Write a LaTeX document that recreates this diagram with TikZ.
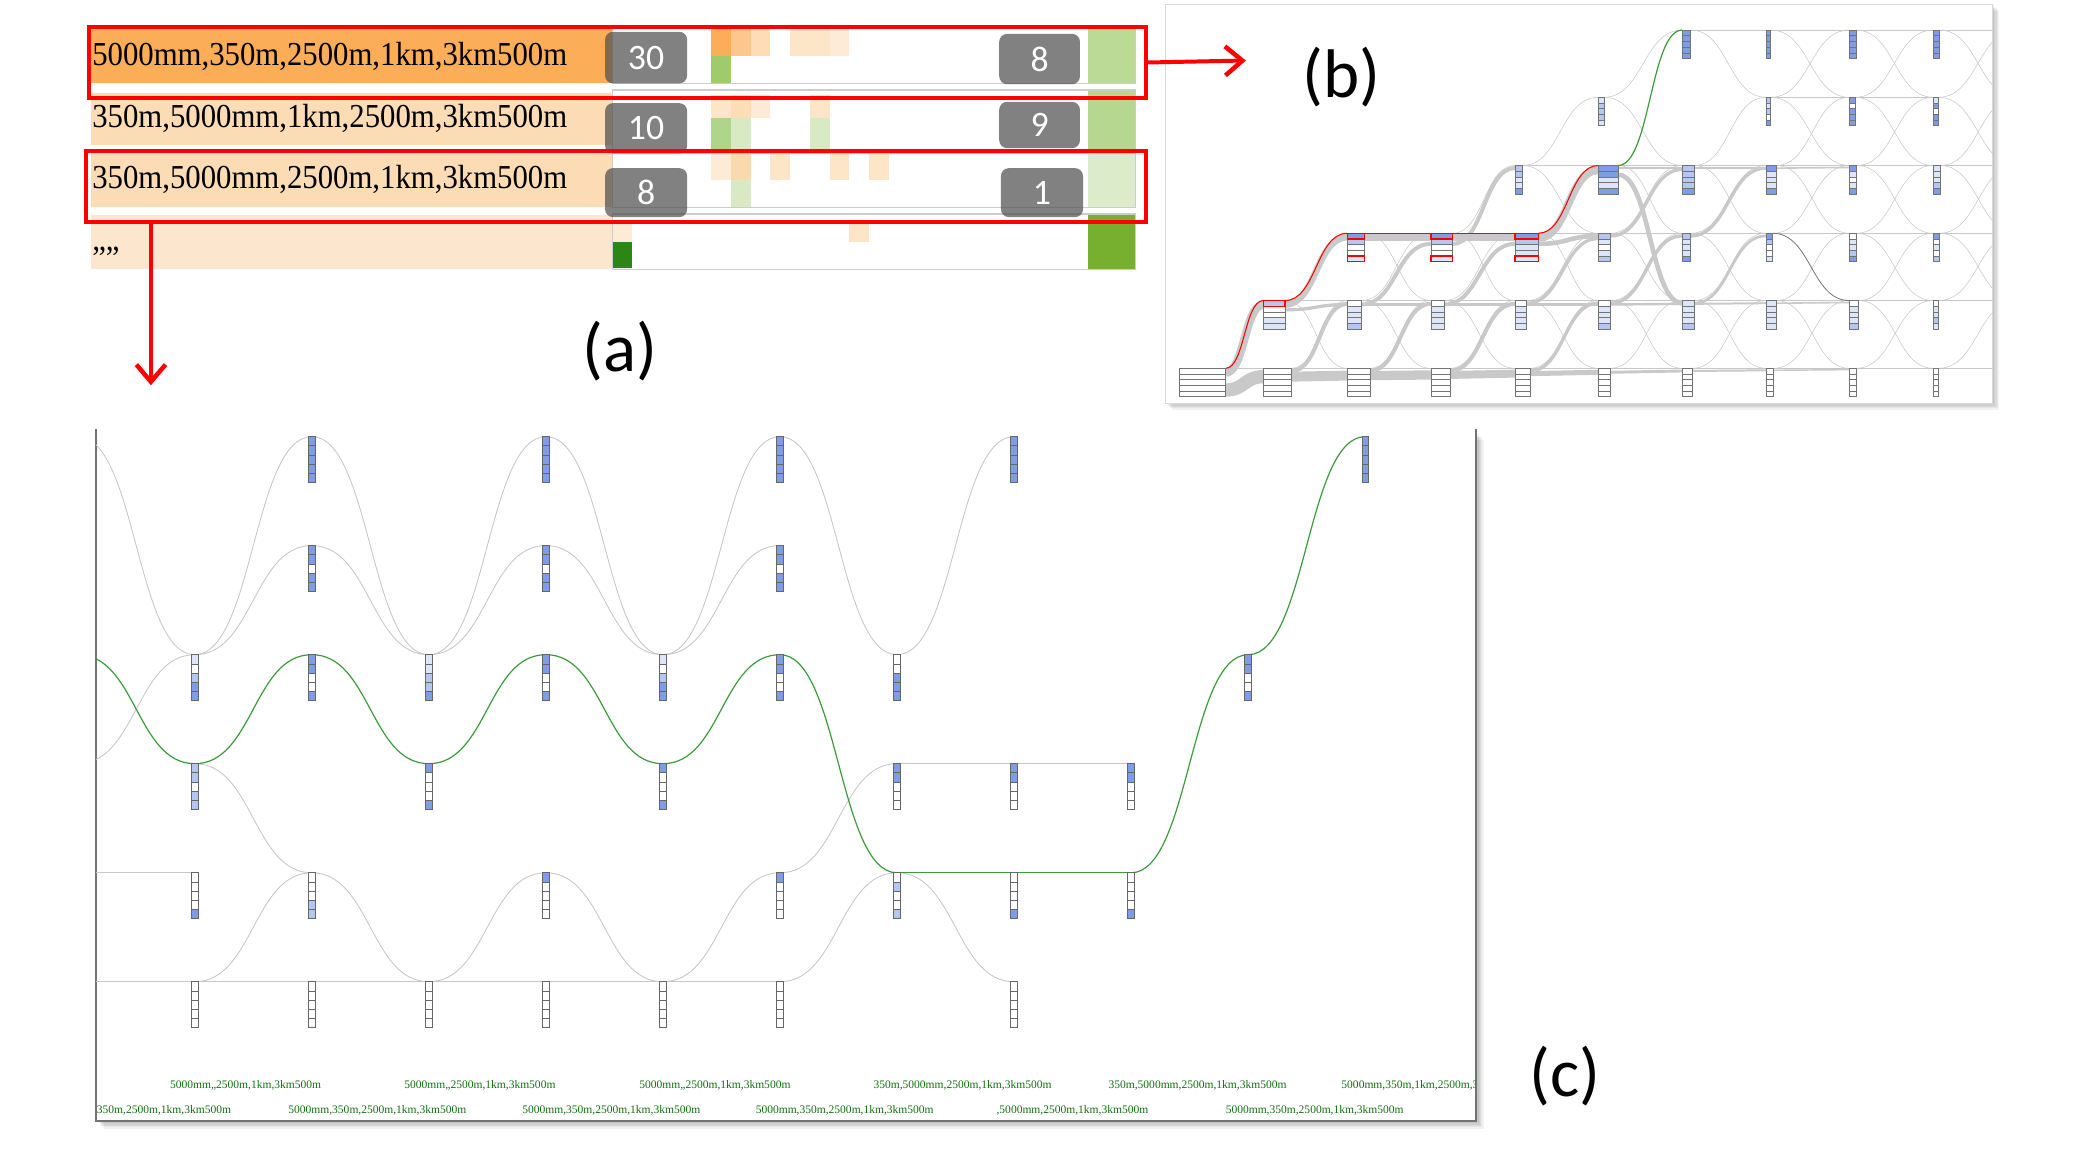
\documentclass[tikz,border=0pt]{standalone}
\usepackage{fontspec}
\setmainfont{Liberation Serif}
\newfontfamily\calib{Carlito}
\usepackage{graphicx}
\usetikzlibrary{calc,arrows.meta}
\pgfdeclarelayer{back}
\pgfdeclarelayer{bg}
\pgfsetlayers{back,bg,main}
\definecolor{orA}{HTML}{FBAD57}
\definecolor{orB}{HTML}{FBDCB4}
\definecolor{orC}{HTML}{FCE7CE}
\definecolor{oa}{HTML}{FBAD57}
\definecolor{ob}{HTML}{FDC68C}
\definecolor{oc}{HTML}{FDDDB5}
\definecolor{od}{HTML}{FDE5C8}
\definecolor{oe}{HTML}{FDEBD6}
\definecolor{of}{HTML}{FBD9AE}
\definecolor{ga}{HTML}{A0CB6C}
\definecolor{gb}{HTML}{AFD58A}
\definecolor{gc}{HTML}{D8EAC4}
\definecolor{gd}{HTML}{2D8515}
\definecolor{ra}{HTML}{BBDA96}
\definecolor{rb}{HTML}{B5D78F}
\definecolor{rc}{HTML}{DCEBC9}
\definecolor{rd}{HTML}{77B02F}
\definecolor{cD}{HTML}{7F9CE4}
\definecolor{cM}{HTML}{B5C6F0}
\definecolor{cL}{HTML}{DDE5F8}
\definecolor{cW}{HTML}{FFFFFF}
\definecolor{pgreen}{HTML}{3C9A3C}
\definecolor{lblgreen}{HTML}{126F12}
\tikzset{
  thinb/.style={draw=black!22, line width=0.4pt},
  thinc/.style={draw=black!22, line width=0.65pt},
  greenl/.style={draw=pgreen, line width=0.9pt},
  redl/.style={draw=red, line width=0.8pt},
  ribbon/.style={draw=black!21},
  bn/.style={inner sep=0pt, outer sep=0pt, minimum height=21.5pt, draw=none},
  cn/.style={inner sep=0pt, outer sep=0pt, minimum height=34.5pt, minimum width=5pt, draw=none},
  vpt/.style={inner sep=0pt, outer sep=0pt, minimum size=0pt},
  numbox/.style={fill={rgb,255:red,80;green,80;blue,80}, fill opacity=0.72, text opacity=1, text=white, rounded corners=6pt, inner sep=0pt, font=\calib\fontsize{27}{27}\selectfont},
  rowtxt/.style={anchor=base west, inner sep=0pt, font=\fontsize{25.3}{26}\selectfont},
  clbl/.style={text=lblgreen, inner sep=0pt, font=\fontsize{8.7}{9}\selectfont},
  panlbl/.style={font=\calib\fontsize{52}{52}\selectfont, inner sep=0pt},
  redbox/.style={draw=red, line width=3pt, inner sep=0pt, anchor=north west},
  redarrow/.style={draw=red, line width=3pt, -{Straight Barb[length=13pt,width=22pt,line width=3.4pt]}},
}
\newcommand\sig[3][]{\draw[#1] let \p1=(#2), \p2=(#3), \p3=($(#2)!0.5!(#3)$) in (\p1) .. controls (\x3,\y1) and (\x3,\y2) .. (\p2);}
\newcommand\rib[5]{\draw[ribbon, line width=#1pt] let \p1=($(#2.north east)+(0,#3)$), \p2=($(#4.north west)+(0,#5)$), \p3=($(#2.north east)!0.5!(#4.north west)$) in (\p1) .. controls (\x3,\y1) and (\x3,\y2) .. (\p2);}
\newcommand\bnode[5]{%
  \node[bn, anchor=north west, minimum width=#4pt] (#1) at (#2,#3) {};
  \foreach \fc [count=\i from 0] in {#5}{%
    \filldraw[fill=\fc, draw=black!55, line width=0.45pt] (#2,{#3+\i*4.3}) rectangle ++(#4,4.3);}%
}
\newcommand\cnode[4]{%
  \node[cn, anchor=north] (#1) at (#2,#3) {};
  \foreach \fc [count=\i from 0] in {#4}{%
    \filldraw[fill=\fc, draw=black!60, line width=0.5pt] ({#2-2.5},{#3+\i*6.9}) rectangle ++(5,6.9);}%
}
\newcommand\acell[4]{\fill[#4] ({462.5+14.92*#1},#2) rectangle ({462.5+14.92*(#1+1)},#3);}
\begin{document}
\begin{tikzpicture}[x=1pt,y=-1pt]
\useasboundingbox (0,0) rectangle (1568,877);
% ---------------- panel backgrounds and shadows
\begin{pgfonlayer}{back}
  \foreach \d in {1,2,3,4,5}{\fill[black,opacity=0.05] (880+\d,3+\d) rectangle (1505+\d,304.5+\d);}
  \fill[white] (880,3) rectangle (1505,304.5);
  \draw[black!15, line width=0.6pt] (880,3) rectangle (1505,304.5);
  \foreach \d in {1,2,3,4,5,6}{\fill[black,opacity=0.05] (72.4+\d,326+\d) rectangle (1114.7+\d,846.5+\d);}
  \fill[white] (72.4,324) rectangle (1114.7,846.5);
  \draw[black!55, line width=1.5pt] (72.4,324) -- (72.4,846.5) -- (1114.7,846.5) -- (1114.7,324);
\end{pgfonlayer}
% ---------------- panel (a)
\fill[orA] (68.5,22) rectangle (462,62.5);
\fill[orB] (68.5,70) rectangle (462,109.5);
\fill[orB] (68.5,115.6) rectangle (462,156.4);
\fill[orC] (68.5,162.4) rectangle (462,203.2);
\acell{5}{21.4}{42}{oa}\acell{6}{21.4}{42}{ob}\acell{7}{21.4}{42}{oc}
\acell{9}{21.4}{42}{od}\acell{10}{21.4}{42}{od}\acell{11}{21.4}{42}{oe}
\acell{5}{42}{63}{ga}
\acell{5}{72}{89}{od}\acell{6}{72}{89}{oc}\acell{7}{72}{89}{oe}\acell{10}{72}{89}{od}
\acell{5}{89}{113.5}{gb}\acell{6}{89}{113.5}{gc}\acell{10}{89}{113.5}{gc}
\acell{5}{116}{136}{oe}\acell{6}{116}{136}{of}\acell{8}{116}{136}{od}\acell{11}{116}{136}{od}\acell{13}{116}{136}{od}
\acell{6}{136}{156.6}{gc}
\acell{0}{166}{182.5}{oe}\acell{12}{166}{182.5}{od}
\acell{0}{182.5}{202.7}{gd}
\fill[ra] (821.5,21.4) rectangle (857.8,63);
\fill[rb] (821.5,68) rectangle (857.8,113.5);
\fill[rc] (821.5,115.5) rectangle (857.8,156.6);
\fill[rd] (821.5,161.7) rectangle (857.8,203.5);
\foreach \ya/\yb in {21.4/63, 68/113.5, 115.5/156.6, 161.7/203.5}{\draw[black!20, line width=1.1pt] (462.5,\ya) rectangle (857.8,\yb);}
\node[rowtxt] (t1) at (69.5,49.5) {\scalebox{0.918}[1]{5000mm,350m,2500m,1km,3km500m}};
\node[rowtxt] (t2) at (69.5,96) {\scalebox{0.918}[1]{350m,5000mm,1km,2500m,3km500m}};
\node[rowtxt] (t3) at (69.5,142) {\scalebox{0.918}[1]{350m,5000mm,2500m,1km,3km500m}};
\node[rowtxt] (t4) at (69.5,189.5) {\scalebox{0.918}[1]{,,,,}};
\node[numbox, minimum width=62pt, minimum height=39pt] (n30) at (488,43.5) {30};
\node[numbox, minimum width=61pt, minimum height=38pt] (n8a) at (785.2,44.6) {8};
\node[numbox, minimum width=62pt, minimum height=38pt] (n10) at (488,96.9) {10};
\node[numbox, minimum width=61pt, minimum height=35pt] (n9) at (785.2,94.4) {9};
\node[numbox, minimum width=62pt, minimum height=37pt] (n8b) at (488,145.5) {8};
\node[numbox, minimum width=62pt, minimum height=37pt] (n1) at (787,145.5) {1};
\node[redbox, minimum width=798.4pt, minimum height=53.6pt] (rb1) at (65.6,18.9) {};
\node[redbox, minimum width=800.5pt, minimum height=53.4pt] (rb2) at (63.5,112.8) {};
\coordinate (arrB) at (941,45.7);
\coordinate (rb2s) at (114,166.2);
\coordinate (arrC) at (114,291);
\draw[redarrow] (rb1.east) -- (arrB);
\draw[redarrow] (rb2s) -- (arrC);
\node[panlbl] (la) at (468,265) {(a)};
\node[panlbl] (lb) at (1013,58) {(b)};
\node[panlbl] (lc) at (1182,813) {(c)};
% ---------------- panel (b) nodes
\bnode{p00}{890.7}{278.2}{35}{cW,cW,cW,cW,cW}
\bnode{p10}{954.2}{278.2}{21.4}{cW,cW,cW,cW,cW}
\bnode{p11}{954.2}{227}{16.4}{cM,cW,cW,cL,cL}
\bnode{p20}{1017.6}{278.2}{17}{cW,cW,cW,cW,cW}
\bnode{p21}{1017.6}{227}{10.6}{cW,cL,cL,cL,cM}
\bnode{p22}{1017.6}{176.2}{12.8}{cD,cM,cW,cW,cL}
\bnode{p30}{1080.8}{278.2}{14.4}{cW,cW,cW,cW,cW}
\bnode{p31}{1080.8}{227}{10}{cW,cL,cL,cL,cL}
\bnode{p32}{1080.8}{176.2}{16.4}{cD,cM,cW,cW,cL}
\bnode{p40}{1144.3}{278.2}{11.3}{cW,cW,cW,cW,cW}
\bnode{p41}{1144.3}{227}{8.8}{cW,cL,cL,cL,cL}
\bnode{p42}{1144.3}{176.2}{17.6}{cD,cM,cL,cL,cL}
\bnode{p43}{1144.3}{125}{5.5}{cM,cM,cL,cL,cD}
\bnode{p50}{1207.2}{278.2}{8.8}{cW,cW,cW,cW,cW}
\bnode{p51}{1207.2}{227}{9.3}{cW,cL,cL,cL,cM}
\bnode{p52}{1207.2}{176.2}{9.3}{cM,cL,cW,cL,cM}
\bnode{p53}{1207.2}{125}{15}{cD,cD,cL,cL,cD}
\bnode{p54}{1207.2}{73.5}{4.3}{cL,cM,cM,cM,cL}
\bnode{p60}{1270.6}{278.2}{7.5}{cW,cW,cW,cW,cW}
\bnode{p61}{1270.6}{227}{8.8}{cL,cL,cL,cL,cM}
\bnode{p62}{1270.6}{176.2}{6.3}{cM,cL,cL,cL,cD}
\bnode{p63}{1270.6}{125}{8.8}{cM,cM,cM,cM,cD}
\bnode{p65}{1270.6}{22.7}{6.3}{cD,cD,cD,cD,cD}
\bnode{p70}{1333.9}{278.2}{5.5}{cW,cW,cW,cW,cW}
\bnode{p71}{1333.9}{227}{7.5}{cL,cL,cL,cL,cL}
\bnode{p72}{1333.9}{176.2}{5}{cD,cM,cW,cW,cL}
\bnode{p73}{1333.9}{125}{7.5}{cD,cL,cL,cL,cD}
\bnode{p74}{1333.9}{73.5}{3.5}{cM,cL,cM,cW,cD}
\bnode{p75}{1333.9}{22.7}{3.5}{cD,cD,cD,cD,cD}
\bnode{p80}{1396.8}{278.2}{5}{cW,cW,cW,cW,cW}
\bnode{p81}{1396.8}{227}{6.8}{cW,cL,cL,cL,cM}
\bnode{p82}{1396.8}{176.2}{5}{cW,cL,cL,cM,cD}
\bnode{p83}{1396.8}{125}{5.5}{cD,cL,cW,cL,cD}
\bnode{p84}{1396.8}{73.5}{4.3}{cD,cW,cD,cD,cD}
\bnode{p85}{1396.8}{22.7}{5}{cD,cD,cD,cD,cD}
\bnode{p90}{1460.2}{278.2}{3.8}{cW,cW,cW,cW,cW}
\bnode{p91}{1460.2}{227}{3.8}{cW,cL,cL,cM,cL}
\bnode{p92}{1460.2}{176.2}{4.5}{cD,cW,cL,cW,cM}
\bnode{p93}{1460.2}{125}{5}{cL,cL,cL,cM,cD}
\bnode{p94}{1460.2}{73.5}{3.8}{cL,cD,cW,cD,cD}
\bnode{p95}{1460.2}{22.7}{4.5}{cD,cD,cD,cD,cD}
\node[vpt] (q0) at (1523.6,278.2) {};
\node[vpt] (q1) at (1523.6,227) {};
\node[vpt] (q2) at (1523.6,176.2) {};
\node[vpt] (q3) at (1523.6,125) {};
\node[vpt] (q4) at (1523.6,73.5) {};
\node[vpt] (q5) at (1523.6,22.7) {};
\draw[red, line width=1pt] (954.2,227) rectangle ++(16.4,4.3);
\draw[red, line width=1pt] (1017.6,176.2) rectangle ++(12.8,4.3);
\draw[red, line width=1pt] (1017.6,193.4) rectangle ++(12.8,4.3);
\draw[red, line width=1pt] (1080.8,176.2) rectangle ++(16.4,4.3);
\draw[red, line width=1pt] (1080.8,193.4) rectangle ++(16.4,4.3);
\draw[red, line width=1pt] (1144.3,176.2) rectangle ++(17.6,4.3);
\draw[red, line width=1pt] (1144.3,193.4) rectangle ++(17.6,4.3);
% ---------------- panel (b) connectors
\begin{pgfonlayer}{bg}
\begin{scope}
\clip (880,3) rectangle (1505,304.5);
\rib{10}{p00}{16.4}{p10}{6.3}
\rib{6.3}{p00}{3.2}{p11}{3.2}
\rib{7.5}{p10}{6.3}{p20}{5.5}
\rib{7}{p20}{5.5}{p30}{5}
\rib{6}{p30}{5}{p40}{4}
\rib{3.8}{p40}{4}{p50}{3}
\rib{2.2}{p50}{3}{p60}{2}
\rib{1.5}{p60}{2}{p70}{1.5}
\rib{1.1}{p70}{1.5}{p80}{1}
\rib{5}{p11}{3}{p22}{3}
\rib{5}{p22}{3}{p32}{3}
\rib{5}{p32}{3}{p42}{3}
\rib{6}{p42}{3.5}{p53}{3.5}
\rib{3}{p10}{2}{p21}{2.5}
\rib{3}{p20}{2}{p31}{2.5}
\rib{3}{p30}{2}{p41}{2.5}
\rib{2.5}{p40}{2}{p51}{2}
\rib{2.5}{p11}{7}{p21}{3}
\rib{2.5}{p21}{3}{p31}{3}
\rib{2.5}{p31}{3}{p41}{3}
\rib{2}{p41}{3}{p51}{3}
\rib{1.8}{p51}{3}{p61}{2.5}
\rib{1.5}{p61}{2.5}{p71}{2}
\rib{1.2}{p71}{2}{p81}{1.5}
\rib{3}{p21}{3}{p32}{8}
\rib{3}{p31}{3}{p42}{8}
\rib{3}{p32}{8}{p43}{2}
\rib{3.5}{p42}{8}{p52}{2}
\rib{2.5}{p41}{2}{p52}{4}
\rib{3.5}{p53}{7}{p61}{2}
\rib{2.5}{p52}{2}{p63}{3}
\rib{2.5}{p51}{2}{p62}{2}
\rib{2.5}{p62}{2}{p73}{2}
\rib{2}{p61}{2}{p72}{2}
\rib{1.5}{p63}{2}{p73}{2}
\rib{1.5}{p53}{2}{p63}{2}
\rib{1.2}{p73}{2}{p83}{1.5}
\foreach \ua/\ub in {p00/p10, p00/p11,
  p10/p20, p10/p21, p11/p20, p11/p21, p11/p22,
  p20/p30, p20/p31, p21/p30, p21/p31, p21/p32, p22/p31, p22/p32,
  p30/p40, p30/p41, p31/p40, p31/p41, p31/p42, p32/p41, p32/p42, p32/p43,
  p40/p50, p40/p51, p41/p50, p41/p51, p41/p52, p42/p51, p42/p52, p42/p53, p43/p52, p43/p53, p43/p54,
  p50/p60, p50/p61, p51/p60, p51/p61, p51/p62, p52/p61, p52/p62, p52/p63, p53/p62, p53/p63, p54/p63, p54/p65,
  p60/p70, p60/p71, p61/p70, p61/p71, p61/p72, p62/p71, p62/p72, p62/p73, p63/p72, p63/p73, p63/p74, p65/p74, p65/p75,
  p70/p80, p70/p81, p71/p80, p71/p81, p71/p82, p72/p82, p72/p83, p73/p82, p73/p83, p73/p84, p74/p83, p74/p84, p74/p85, p75/p84, p75/p85,
  p80/p90, p80/p91, p81/p90, p81/p91, p81/p92, p82/p91, p82/p92, p82/p93, p83/p92, p83/p93, p83/p94, p84/p93, p84/p94, p84/p95, p85/p94, p85/p95,
  p90/q0, p90/q1, p91/q1, p91/q2, p92/q1, p92/q2, p92/q3, p93/q2, p93/q3, p93/q4, p94/q3, p94/q5, p95/q4, p95/q5}
  {\sig[thinb]{\ua.north east}{\ub.north west}}
\sig[draw=black!55, line width=0.6pt]{p72.north east}{p81.north west}
\foreach \ua/\ub in {p00/p11, p11/p22, p22/p32, p32/p42, p42/p53}{\sig[redl]{\ua.north east}{\ub.north west}}
\sig[greenl]{p53.north east}{p65.north west}
\end{scope}
\end{pgfonlayer}
% ---------------- panel (c) nodes
\cnode{ca1}{235.5}{329.8}{cD,cD,cD,cD,cD}
\cnode{ca3}{412.3}{329.8}{cD,cD,cD,cD,cD}
\cnode{ca5}{589.1}{329.8}{cD,cD,cD,cD,cD}
\cnode{ca7}{765.9}{329.8}{cD,cD,cD,cD,cD}
\cnode{ca10}{1031.1}{329.8}{cD,cD,cD,cD,cD}
\cnode{cb1}{235.5}{412.1}{cD,cD,cW,cD,cD}
\cnode{cb3}{412.3}{412.1}{cD,cD,cW,cD,cD}
\cnode{cb5}{589.1}{412.1}{cD,cD,cW,cD,cD}
\cnode{cc0}{147.1}{494.5}{cL,cW,cM,cD,cD}
\cnode{cc1}{235.5}{494.5}{cD,cD,cW,cW,cD}
\cnode{cc2}{323.9}{494.5}{cL,cL,cM,cM,cD}
\cnode{cc3}{412.3}{494.5}{cD,cD,cW,cW,cD}
\cnode{cc4}{500.7}{494.5}{cL,cW,cM,cD,cD}
\cnode{cc5}{589.1}{494.5}{cD,cD,cW,cW,cD}
\cnode{cc6}{677.5}{494.5}{cW,cW,cD,cD,cD}
\cnode{cc9}{942.7}{494.5}{cD,cD,cW,cW,cD}
\cnode{cd0}{147.1}{576.8}{cM,cM,cW,cM,cM}
\cnode{cd2}{323.9}{576.8}{cD,cW,cW,cW,cD}
\cnode{cd4}{500.7}{576.8}{cD,cW,cW,cW,cD}
\cnode{cd6}{677.5}{576.8}{cD,cD,cW,cW,cW}
\cnode{cd7}{765.9}{576.8}{cD,cD,cW,cW,cW}
\cnode{cd8}{854.3}{576.8}{cD,cD,cW,cW,cW}
\cnode{ce0}{147.1}{659.2}{cW,cW,cW,cW,cD}
\cnode{ce1}{235.5}{659.2}{cW,cW,cW,cM,cM}
\cnode{ce3}{412.3}{659.2}{cD,cW,cW,cW,cW}
\cnode{ce5}{589.1}{659.2}{cD,cW,cW,cW,cW}
\cnode{ce6}{677.5}{659.2}{cW,cM,cW,cW,cM}
\cnode{ce7}{765.9}{659.2}{cW,cW,cW,cW,cD}
\cnode{ce8}{854.3}{659.2}{cW,cW,cW,cW,cD}
\cnode{cf0}{147.1}{741.5}{cW,cW,cW,cW,cW}
\cnode{cf1}{235.5}{741.5}{cW,cW,cW,cW,cW}
\cnode{cf2}{323.9}{741.5}{cW,cW,cW,cW,cW}
\cnode{cf3}{412.3}{741.5}{cW,cW,cW,cW,cW}
\cnode{cf4}{500.7}{741.5}{cW,cW,cW,cW,cW}
\cnode{cf5}{589.1}{741.5}{cW,cW,cW,cW,cW}
\cnode{cf7}{765.9}{741.5}{cW,cW,cW,cW,cW}
\node[vpt] (cvA) at (58.7,329.8) {};
\node[vpt] (cvC) at (58.7,494.5) {};
\node[vpt] (cvD) at (58.7,576.8) {};
\node[vpt] (cLE) at (72.4,659.2) {};
\node[vpt] (cLF) at (72.4,741.5) {};
% ---------------- panel (c) connectors
\begin{pgfonlayer}{bg}
\begin{scope}
\clip (72.4,324) rectangle (1114.7,846.5);
\foreach \ua/\ub in {cvA/cc0, cvD/cc0, cc0/ca1, cc0/cb1, ca1/cc2, cb1/cc2, cc2/ca3, cc2/cb3, ca3/cc4, cb3/cc4, cc4/ca5, cc4/cb5, ca5/cc6, cc6/ca7, cd0/ce1, cf0/ce1, ce1/cf2, cf2/ce3, ce3/cf4, cf4/ce5, ce5/cd6, cf5/ce6, ce6/cf7}
  {\sig[thinc]{\ua.north}{\ub.north}}
\draw[thinc] (cLE) -- (ce0.north);
\draw[thinc] (cLF) -- (cf5.north);
\draw[thinc] (cd6.north) -- (cd8.north);
\foreach \ua/\ub in {cvC/cd0, cd0/cc1, cc1/cd2, cd2/cc3, cc3/cd4, cd4/cc5, cc5/ce6, ce8/cc9, cc9/ca10}
  {\sig[greenl]{\ua.north}{\ub.north}}
\draw[greenl] (ce6.north) -- (ce8.north);
\end{scope}
\end{pgfonlayer}
% ---------------- panel (c) labels
\begin{scope}
\clip (72.4,324) rectangle (1114.7,846.5);
\node[clbl] (u1) at (185.5,820) {5000mm,,2500m,1km,3km500m};
\node[clbl] (u2) at (362.5,820) {5000mm,,2500m,1km,3km500m};
\node[clbl] (u3) at (540,820) {5000mm,,2500m,1km,3km500m};
\node[clbl] (u4) at (727,820) {350m,5000mm,2500m,1km,3km500m};
\node[clbl] (u5) at (904.5,820) {350m,5000mm,2500m,1km,3km500m};
\node[clbl, anchor=west] (u6) at (1013,820) {5000mm,350m,1km,2500m,3km500m};
\node[clbl, anchor=west] (w1) at (73,839) {350m,2500m,1km,3km500m};
\node[clbl] (w2) at (285,839) {5000mm,350m,2500m,1km,3km500m};
\node[clbl] (w3) at (461.7,839) {5000mm,350m,2500m,1km,3km500m};
\node[clbl] (w4) at (638,839) {5000mm,350m,2500m,1km,3km500m};
\node[clbl] (w5) at (810,839) {,5000mm,2500m,1km,3km500m};
\node[clbl] (w6) at (993,839) {5000mm,350m,2500m,1km,3km500m};
\end{scope}
\end{tikzpicture}
\end{document}
